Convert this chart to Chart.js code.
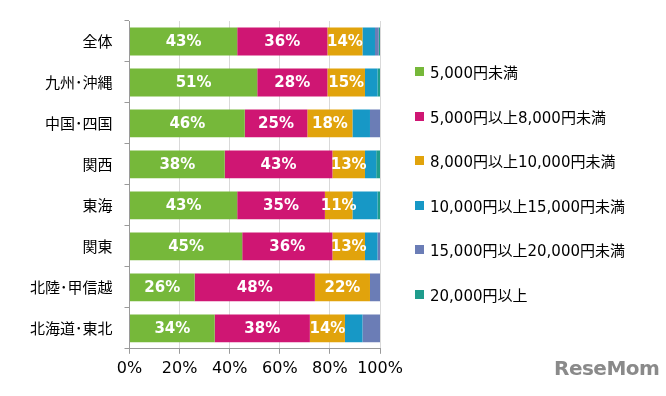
<!DOCTYPE html>
<html>
<head>
<meta charset="utf-8">
<script src="https://cdn.jsdelivr.net/npm/chart.js@4/dist/chart.umd.min.js"></script>
<style>
    body { margin: 0; background: #fff; }
    #wrap { position: relative; width: 666px; height: 396px; }
    #legend { position: absolute; left: 415px; top: 0; font-family: "DejaVu Sans", "Noto Sans CJK JP", sans-serif; font-size: 15px; color: #000; }
    .item { position: absolute; left: 0; white-space: nowrap; display: flex; align-items: center; }
    .box { width: 9px; height: 9px; margin-right: 6px; }
    #logo { position: absolute; left: 554px; top: 356px; font-family: "DejaVu Sans", sans-serif; font-weight: bold; font-size: 20px; color: #8a8a8a; letter-spacing: -0.5px; }
</style>
</head>
<body>
<div id="wrap">
    <canvas id="myChart" width="666" height="396"></canvas>
    <div id="legend"></div>
    <div id="logo">ReseMom</div>
</div>
<script>
const categories = ["全体", "九州･沖縄", "中国･四国", "関西", "東海", "関東", "北陸･甲信越", "北海道･東北"];
const seriesNames = ["5,000円未満", "5,000円以上8,000円未満", "8,000円以上10,000円未満", "10,000円以上15,000円未満", "15,000円以上20,000円未満", "20,000円以上"];
const under5000 = [43, 51, 46, 38, 43, 45, 26, 34];
const from5000to8000 = [36, 28, 25, 43, 35, 36, 48, 38];
const from8000to10000 = [14, 15, 18, 13, 11, 13, 22, 14];
const from10000to15000 = [5, 5, 7, 4.5, 10, 5, 0, 7];
const from15000to20000 = [1.5, 0, 4, 0, 0, 1, 4, 7];
const over20000 = [0.5, 1, 0, 1.5, 1, 0, 0, 0];
const xTicks = [0, 20, 40, 60, 80, 100];

const colors = ["#76b83a", "#cf1673", "#e1a30c", "#1798c6", "#6b7db6", "#1f9c8c"];
const allSeries = [under5000, from5000to8000, from8000to10000, from10000to15000, from15000to20000, over20000];

const datasets = allSeries.map((vals, i) => ({
    label: seriesNames[i],
    data: vals,
    backgroundColor: colors[i],
    borderWidth: 0,
    categoryPercentage: 1,
    barPercentage: 0.68,
}));

// white % labels inside the bigger segments
const barLabels = {
    id: "barLabels",
    afterDatasetsDraw(chart) {
        const ctx = chart.ctx;
        ctx.save();
        ctx.font = "bold 15px 'DejaVu Sans', sans-serif";
        ctx.fillStyle = "#fff";
        ctx.textAlign = "center";
        ctx.textBaseline = "middle";
        chart.data.datasets.forEach((ds, i) => {
            const meta = chart.getDatasetMeta(i);
            meta.data.forEach((bar, j) => {
                const v = ds.data[j];
                if (v < 11) return;
                const cx = (bar.x + bar.base) / 2;
                ctx.fillText(Math.round(v) + "%", cx, bar.y + 1);
            });
        });
        ctx.restore();
    },
};

const config = {
    type: "bar",
    data: { labels: categories, datasets: datasets },
    options: {
        indexAxis: "y",
        responsive: false,
        animation: false,
        layout: { padding: { left: 18, right: 286, top: 18, bottom: 13 } },
        plugins: { legend: { display: false }, tooltip: { enabled: false } },
        scales: {
            x: {
                stacked: true,
                min: 0,
                max: 100,
                afterBuildTicks: (axis) => { axis.ticks = xTicks.map((v) => ({ value: v })); },
                ticks: {
                    callback: (v) => v + "%",
                    font: { family: "'DejaVu Sans', sans-serif", size: 16 },
                    color: "#000",
                    padding: 5,
                    maxRotation: 0,
                },
                grid: { color: "#d9d9d9", tickColor: "#9a9a9a", tickLength: 5, drawOnChartArea: true },
                border: { color: "#9a9a9a" },
            },
            y: {
                stacked: true,
                ticks: {
                    font: { family: "'Noto Sans CJK JP', sans-serif", size: 15 },
                    color: "#000",
                    padding: 12,
                },
                grid: { drawOnChartArea: false, tickColor: "#9a9a9a", tickLength: 5 },
                border: { color: "#9a9a9a" },
            },
        },
    },
    plugins: [barLabels],
};

new Chart(document.getElementById("myChart"), config);

const legend = document.getElementById("legend");
seriesNames.forEach((name, i) => {
    const item = document.createElement("div");
    item.className = "item";
    item.style.top = (61 + i * 44.5) + "px";
    item.innerHTML = '<span class="box" style="background:' + colors[i] + '"></span><span>' + name + "</span>";
    legend.appendChild(item);
});
</script>
</body>
</html>
